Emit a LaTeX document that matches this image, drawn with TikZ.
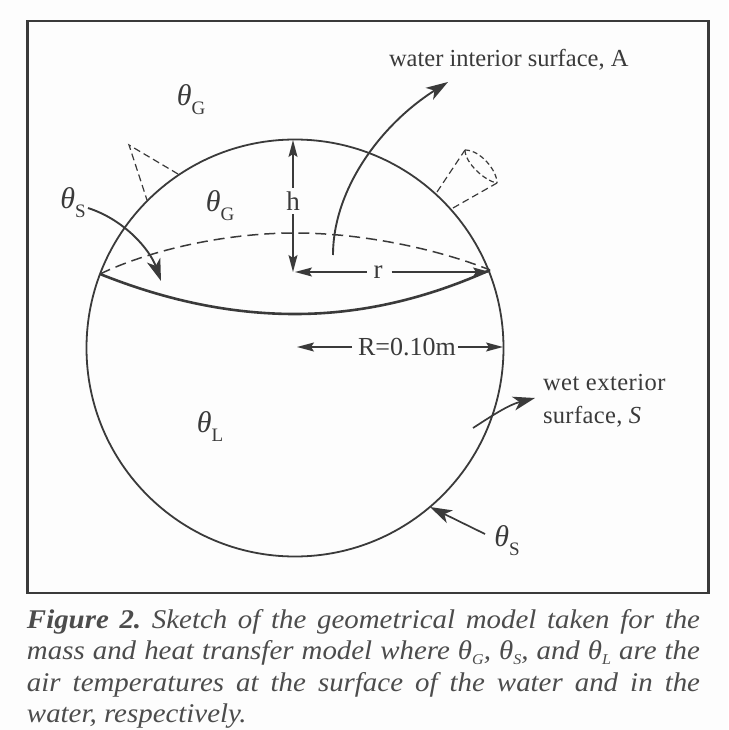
\documentclass[tikz,border=0pt]{standalone}
\usepackage{fontspec}
\setmainfont{Liberation Serif}
\newfontfamily\capfont[FakeStretch=1.07]{Liberation Serif}
\usetikzlibrary{arrows.meta}
\newcommand{\thetasub}[1]{{\itshape θ}\raisebox{-0.3em}{\fontsize{19}{19}\selectfont #1}}
\newcommand{\capsub}[1]{θ\raisebox{-0.22em}{\fontsize{15}{15}\selectfont #1}}
\definecolor{ink}{HTML}{3A3A3A}
\definecolor{capink}{HTML}{4C4C4C}
\definecolor{paper}{HTML}{FDFDFD}
\tikzset{
  x=1pt,y=-1pt,
  every node/.style={text=ink,inner sep=0pt,outer sep=0pt},
  sphereline/.style={draw=ink,line width=1.8pt},
  waterline/.style={draw=ink,line width=2.6pt},
  dashline/.style={draw=ink,line width=1.5pt,dash pattern=on 11pt off 6pt},
  conedash/.style={draw=ink,line width=1.2pt,dash pattern=on 7pt off 4pt},
  bigarrow/.style={draw=ink,line width=1.9pt,-{Stealth[length=22pt,width=14pt,inset=6pt]}},
  dimarrow/.style={draw=ink,line width=1.5pt,-{Stealth[length=17pt,width=9pt,inset=3pt]}},
  label/.style={font=\fontsize{27}{27}\selectfont},
  sym/.style={font=\fontsize{30}{30}\selectfont},
  plain/.style={font=\fontsize{24.5}{26}\selectfont},
  capline/.style={anchor=base west,text=capink,font=\capfont\fontsize{27}{27}\selectfont\itshape\frenchspacing},
}
\begin{document}
\begin{tikzpicture}
\useasboundingbox[fill=paper] (0,0) rectangle (728,730);
\node[draw=ink,line width=2.6pt,minimum width=681pt,minimum height=572pt,anchor=north west] (frame) at (27.5,21) {};
\node[circle,sphereline,minimum size=417pt] (sphere) at (295,348) {};
% water surface
\coordinate (wl) at (100,274);
\coordinate (wr) at (490,270);
\draw[dashline] (wl) .. controls (150,250) and (225,233) .. (295,233) .. controls (365,233) and (440,250) .. (wr);
\draw[waterline] (wl) .. controls (160,298) and (225,314) .. (295,314) .. controls (365,314) and (430,297) .. (wr);
% small cones
\coordinate (ta) at (129,145);
\coordinate (tb) at (178,174);
\coordinate (tc) at (147,200);
\draw[conedash] (tb) -- (ta) -- (tc);
\coordinate (ca) at (437,192);
\coordinate (cb) at (465,150);
\coordinate (cc) at (453,208);
\coordinate (cd) at (497,183);
\draw[conedash] (ca) -- (cb);
\draw[conedash] (cc) -- (cd);
\draw[conedash,dash pattern=on 5pt off 3pt] (cb) .. controls (480,150) and (497,170) .. (cd);
\draw[conedash,dash pattern=on 5pt off 3pt] (cb) .. controls (465,163) and (485,181) .. (cd);
% labels
\node[sym] (thG1) at (191,100) {\thetasub{G}};
\node[sym] (thG2) at (220,206) {\thetasub{G}};
\node[sym] (thS1) at (73,203) {\thetasub{S}};
\node[sym] (thL) at (210,427) {\thetasub{L}};
\node[sym] (thS2) at (507,541) {\thetasub{S}};
\node[label] (h) at (293,201) {h};
\node[label] (r) at (378,272) {r};
\node[font=\fontsize{26}{26}\selectfont] (Rlab) at (407,347) {R=0.10m};
\node[plain,anchor=base west] (intA) at (389,67) {water interior surface, A};
\node[plain,anchor=base west] (wet1) at (543,390) {\addfontfeature{LetterSpace=2}wet exterior};
\node[plain,anchor=base west] (wet2) at (543,423) {\addfontfeature{LetterSpace=1.5}surface, \textit{S}};
% dimension arrows
\coordinate (hT) at (293,140);
\coordinate (hB) at (293,272);
\coordinate (rL) at (295,272);
\coordinate (rR) at (490,272);
\coordinate (RL) at (297,347);
\coordinate (RR) at (503,347);
\draw[dimarrow] (h.north) ++(0,-4) -- (hT);
\draw[dimarrow] (h.south) ++(0,4) -- (hB);
\draw[dimarrow] (r.west |- rL) ++(-7,0) -- (rL);
\draw[dimarrow] (r.east |- rR) ++(9,0) -- (rR);
\draw[dimarrow] (Rlab.west |- RL) ++(-6,0) -- (RL);
\draw[dimarrow] (Rlab.east |- RR) ++(2,0) -- (RR);
% curved arrows
\coordinate (aS) at (333,255);
\coordinate (aE) at (448,82);
\draw[bigarrow] (aS) .. controls (333,190) and (380,125) .. (aE);
\coordinate (bS) at (88,208);
\coordinate (bE) at (161,281);
\draw[bigarrow] (bS) .. controls (125,220) and (150,250) .. (bE);
\coordinate (cS) at (473,428);
\coordinate (cE) at (535,398);
\draw[bigarrow,line width=1.7pt] (cS) .. controls (490,417) and (508,405) .. (cE);
\coordinate (dS) at (485,534);
\coordinate (dE) at (430,507);
\draw[bigarrow,line width=1.7pt] (dS) -- (dE);
% caption
\node[capline] (cap1) at (27,628) {\makebox[673pt][s]{\textbf{Figure 2.} Sketch of the geometrical model taken for the}};
\node[capline] (cap2) at (27,659) {\makebox[673pt][s]{mass and heat transfer model where \capsub{G}, \capsub{S}, and \capsub{L} are the}};
\node[capline] (cap3) at (27,691) {\makebox[673pt][s]{air temperatures at the surface of the water and in the}};
\node[capline] (cap4) at (27,722) {water, respectively.};
\end{tikzpicture}
\end{document}
